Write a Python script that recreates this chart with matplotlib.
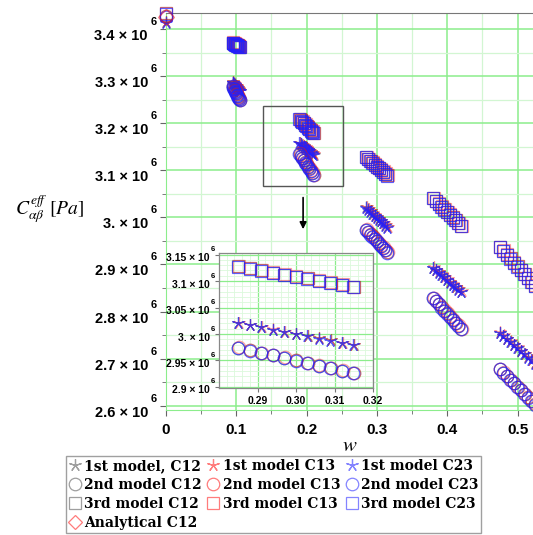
import numpy as np
import matplotlib
matplotlib.use("Agg")
import matplotlib.pyplot as plt
from matplotlib.lines import Line2D
from matplotlib.patches import Rectangle
from matplotlib.transforms import offset_copy
from matplotlib.ticker import MultipleLocator

# w values of the six groups
w_groups = [
    [0.0],
    [0.095, 0.096, 0.097, 0.098, 0.099, 0.100, 0.101, 0.102, 0.103, 0.104, 0.105],
    [0.190, 0.192, 0.194, 0.196, 0.198, 0.200, 0.202, 0.204, 0.206, 0.208, 0.210],
    [0.285, 0.288, 0.291, 0.294, 0.297, 0.300, 0.303, 0.306, 0.309, 0.312, 0.315],
    [0.380, 0.384, 0.388, 0.392, 0.396, 0.400, 0.404, 0.408, 0.412, 0.416, 0.420],
    [0.475, 0.480, 0.485, 0.490, 0.495, 0.500, 0.505, 0.510, 0.515, 0.520, 0.525],
]

# C_eff in units of 10^6 Pa
model1 = [
    [3.414],
    [3.287, 3.285, 3.283, 3.281, 3.279, 3.278, 3.276, 3.274, 3.272, 3.270, 3.268],
    [3.158, 3.156, 3.153, 3.151, 3.148, 3.146, 3.143, 3.141, 3.138, 3.136, 3.133],
    [3.021, 3.017, 3.013, 3.008, 3.004, 3.000, 2.996, 2.992, 2.988, 2.983, 2.979],
    [2.893, 2.888, 2.883, 2.878, 2.873, 2.868, 2.862, 2.857, 2.852, 2.847, 2.842],
    [2.755, 2.749, 2.742, 2.736, 2.729, 2.723, 2.716, 2.710, 2.703, 2.697, 2.690],
]
model2 = [
    [3.427],
    [3.279, 3.276, 3.273, 3.270, 3.267, 3.264, 3.261, 3.258, 3.255, 3.252, 3.249],
    [3.135, 3.131, 3.126, 3.122, 3.117, 3.113, 3.108, 3.104, 3.099, 3.095, 3.090],
    [2.974, 2.969, 2.964, 2.960, 2.955, 2.950, 2.945, 2.940, 2.936, 2.931, 2.926],
    [2.829, 2.822, 2.816, 2.809, 2.802, 2.796, 2.789, 2.783, 2.776, 2.770, 2.763],
    [2.678, 2.670, 2.663, 2.655, 2.648, 2.640, 2.633, 2.625, 2.618, 2.610, 2.603],
]
model3 = [
    [3.433],
    [3.371, 3.370, 3.369, 3.368, 3.367, 3.366, 3.366, 3.365, 3.364, 3.363, 3.362],
    [3.209, 3.206, 3.203, 3.200, 3.197, 3.194, 3.191, 3.188, 3.185, 3.182, 3.179],
    [3.128, 3.124, 3.120, 3.116, 3.112, 3.108, 3.105, 3.101, 3.097, 3.093, 3.089],
    [3.041, 3.035, 3.029, 3.023, 3.017, 3.011, 3.006, 3.000, 2.994, 2.988, 2.982],
    [2.937, 2.929, 2.921, 2.913, 2.904, 2.896, 2.888, 2.880, 2.871, 2.863, 2.855],
]
analytical_w = [0.0]
analytical_c12 = [3.426]

xtick_vals = [0, 0.1, 0.2, 0.3, 0.4, 0.5]
xtick_text = ['0', '0.1', '0.2', '0.3', '0.4', '0.5']
ytick_vals = [2.6, 2.7, 2.8, 2.9, 3.0, 3.1, 3.2, 3.3, 3.4]
ytick_text = ['2.6', '2.7', '2.8', '2.9', '3.', '3.1', '3.2', '3.3', '3.4']
inset_xtick_vals = [0.29, 0.30, 0.31, 0.32]
inset_xtick_text = ['0.29', '0.30', '0.31', '0.32']
inset_ytick_vals = [2.9, 2.95, 3.0, 3.05, 3.1, 3.15]
inset_ytick_text = ['2.9', '2.95', '3.', '3.05', '3.1', '3.15']

# zoom box and arrow (w, C/1e6)
box_w = (0.138, 0.252)
box_c = (3.067, 3.2365)
arrow_w = 0.195
arrow_c = (3.048, 2.969)

w = np.concatenate(w_groups)
models = [np.concatenate(model1) * 1e6,
          np.concatenate(model2) * 1e6,
          np.concatenate(model3) * 1e6]
model_names = ['1st model', '2nd model', '3rd model']
markers = [(5, 2, 0), 'o', 's']
comp_colors = ['#505050', '#ff1010', '#2020ff']
comp_alpha = [0.5, 0.4, 0.7]
comp_names = ['C12', 'C13', 'C23']
comp_shift = [(0, 0), (0.25, 0.25), (-0.2, -0.2)]

fig = plt.figure(figsize=(5.33, 5.35), dpi=100)
ax = fig.add_axes([166 / 533, 1 - 410 / 535, (533 - 166) / 533, (410 - 13) / 535])
axin = fig.add_axes([219 / 533, 1 - 388 / 535, (373 - 219) / 533, (388 - 253) / 535])

handles = {}
for a, clip in [(ax, False), (axin, True)]:
    for mi in range(3):
        for ci in range(3):
            tr = offset_copy(a.transData, fig=fig, x=comp_shift[ci][0],
                             y=comp_shift[ci][1], units='points')
            a.plot(w, models[mi], ls='none', marker=markers[mi], ms=9,
                   mfc='none', mec=comp_colors[ci], mew=0.85, alpha=comp_alpha[ci],
                   transform=tr, clip_on=clip, zorder=3)
            if a is ax:
                if mi == 0 and ci == 0:
                    lab = model_names[mi] + ', ' + comp_names[ci]
                else:
                    lab = model_names[mi] + ' ' + comp_names[ci]
                handles[(mi, ci)] = Line2D([], [], ls='none', marker=markers[mi], ms=9,
                                           mfc='none', mec=comp_colors[ci], mew=0.9,
                                           alpha=0.55, label=lab)
    a.plot(analytical_w, np.array(analytical_c12) * 1e6, ls='none', marker='D', ms=8,
           mfc='none', mec='#ff1010', mew=0.9, alpha=0.5, clip_on=clip, zorder=3)

ana_handle = Line2D([], [], ls='none', marker='D', ms=7, mfc='none', mec='#ff1010',
                    mew=0.9, alpha=0.55, label='Analytical C12')


def maple_labels(a, vals, texts, size, dx_txt, dy_txt, dx_exp, dy_exp, exp_size):
    # "3.4 x 10" with a raised exponent 6, placed left of the y axis
    base = a.get_yaxis_transform()
    for v, s in zip(vals, texts):
        t1 = offset_copy(base, fig=fig, x=dx_txt, y=dy_txt, units='dots')
        t2 = offset_copy(base, fig=fig, x=dx_exp, y=dy_exp, units='dots')
        a.text(0, v * 1e6, s + ' \u00d7 10', transform=t1, ha='right', va='center',
               fontsize=size, fontweight='bold', family='Liberation Sans', clip_on=False)
        a.text(0, v * 1e6, '6', transform=t2, ha='right', va='center',
               fontsize=exp_size, fontweight='bold', family='Liberation Sans',
               clip_on=False)


# main axes
ax.set_xlim(0, 0.522)
ax.set_ylim(2.591e6, 3.434e6)
ax.set_xticks(xtick_vals)
ax.set_xticklabels(xtick_text)
ax.set_yticks(np.array(ytick_vals) * 1e6)
ax.set_yticklabels([])
ax.xaxis.set_minor_locator(MultipleLocator(0.05))
ax.yaxis.set_minor_locator(MultipleLocator(0.05e6))
ax.grid(which='major', color='#8ced8c', lw=1.1)
ax.grid(which='minor', color='#d2f6d2', lw=0.9)
ax.set_axisbelow(True)
ax.tick_params(which='both', direction='out', color='#666666')
ax.tick_params(which='major', length=4, pad=5)
ax.tick_params(which='minor', length=3)
for lab in ax.get_xticklabels():
    lab.set_fontfamily('Liberation Sans')
    lab.set_fontweight('bold')
    lab.set_fontsize(11)
maple_labels(ax, ytick_vals, ytick_text, 10.5, -18, -7, -9, 7, 8)
ax.spines['top'].set_color('#777777')
ax.spines['right'].set_visible(False)
ax.spines['left'].set_color('#8ced8c')
ax.spines['bottom'].set_color('#8ced8c')

ax.add_patch(Rectangle((box_w[0], box_c[0] * 1e6), box_w[1] - box_w[0],
                       (box_c[1] - box_c[0]) * 1e6, fill=False, ec='#555555', lw=1.0,
                       zorder=4))
ax.annotate('', xy=(arrow_w, arrow_c[1] * 1e6), xytext=(arrow_w, arrow_c[0] * 1e6),
            arrowprops=dict(arrowstyle='-|>', color='black', lw=1.2,
                            mutation_scale=10), zorder=4)

# inset axes
axin.set_facecolor('white')
axin.set_xlim(0.28, 0.32)
axin.set_ylim(2.898e6, 3.153e6)
axin.set_xticks(inset_xtick_vals)
axin.set_xticklabels(inset_xtick_text)
axin.set_yticks(np.array(inset_ytick_vals) * 1e6)
axin.set_yticklabels([])
axin.xaxis.set_minor_locator(MultipleLocator(0.002))
axin.yaxis.set_minor_locator(MultipleLocator(0.01e6))
axin.grid(which='major', color='#8ced8c', lw=0.9)
axin.grid(which='minor', color='#dcf8dc', lw=0.6)
axin.set_axisbelow(True)
axin.tick_params(which='both', direction='out', color='#777777')
axin.tick_params(which='major', length=3, pad=3)
axin.tick_params(which='minor', length=0)
for lab in axin.get_xticklabels():
    lab.set_fontfamily('Liberation Sans')
    lab.set_fontweight('bold')
    lab.set_fontsize(7.5)
maple_labels(axin, inset_ytick_vals, inset_ytick_text, 7.5, -9, -3.5, -4, 5, 5.5)
for s in axin.spines.values():
    s.set_color('#888888')
    s.set_linewidth(0.9)

# axis labels
fig.text(50 / 533, 1 - 210 / 535, r'$C_{\alpha\beta}^{eff}\ [Pa]$', math_fontfamily='stix',
         fontsize=14, ha='center', va='center')
fig.text(350 / 533, 1 - 445 / 535, r'$w$', math_fontfamily='stix', fontsize=15,
         ha='center', va='center')

order = [handles[(0, 0)], handles[(1, 0)], handles[(2, 0)], ana_handle,
         handles[(0, 1)], handles[(1, 1)], handles[(2, 1)],
         handles[(0, 2)], handles[(1, 2)], handles[(2, 2)]]
leg = fig.legend(handles=order, ncol=3, loc='upper left',
                 bbox_to_anchor=(66 / 533, 1 - 456 / 535),
                 prop={'family': 'DejaVu Serif', 'weight': 'bold', 'size': 10},
                 frameon=True, fancybox=False, edgecolor='#888888',
                 handlelength=0.9, handletextpad=0.2, columnspacing=0.4,
                 labelspacing=0.37, borderpad=0.2, borderaxespad=0)
leg.get_frame().set_linewidth(1.0)

fig.savefig('out.png', dpi=100)
